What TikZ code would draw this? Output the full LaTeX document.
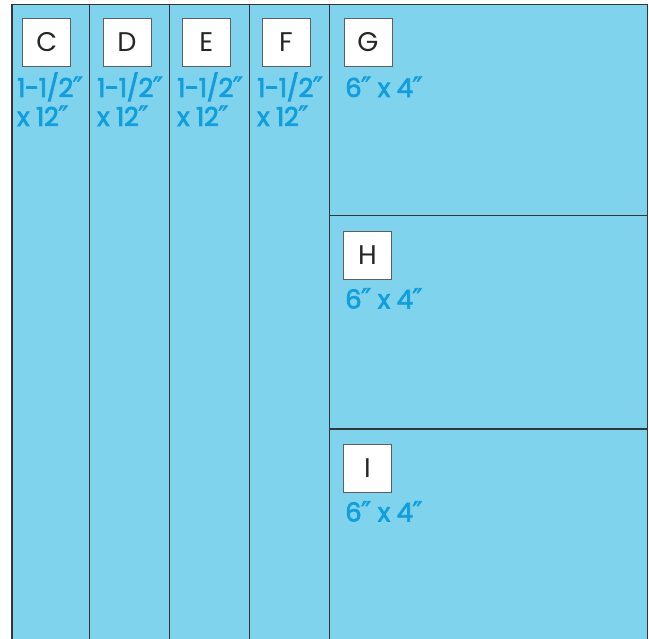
\documentclass[tikz,border=0pt]{standalone}
\usepackage{fontspec}
\newfontfamily\pop{Poppins}
\newfontfamily\popdim{Poppins}[FakeBold=2.5,LetterSpace=-2]
\newfontfamily\dvs{DejaVu Sans}[FakeBold=1.5]
\newcommand{\inch}{{\dvs\kern-0.03em\fontsize{28}{29}\selectfont ″}}
\definecolor{bgblue}{RGB}{127,211,237}
\definecolor{txtblue}{RGB}{17,158,220}
\definecolor{edge}{RGB}{50,55,60}
\begin{document}
\begin{tikzpicture}[x=1pt,y=-1pt,
  letterbox/.style={draw=edge!80,line width=0.9pt,fill=white,minimum width=48pt,minimum height=48pt,inner sep=0pt,font=\pop\fontsize{27}{27}\selectfont,text=black!85},
  dimtext/.style={anchor=base west,inner sep=0pt,align=left,text=txtblue,font=\popdim\fontsize{26}{29}\selectfont},
  cutline/.style={draw=edge,line width=1.1pt}]
\useasboundingbox (0,0) rectangle (649,639);
\fill[bgblue] (12,4.5) rectangle (647.5,639);
\draw[cutline] (12,639) -- (12,4.5) -- (647.5,4.5) -- (647.5,639);
\foreach \x in {89.5,169.5,249.3,329.3} \draw[cutline] (\x,4.5) -- (\x,639);
\draw[cutline] (329.3,215.7) -- (647.5,215.7);
\draw[cutline] (329.3,429) -- (647.5,429);
\node[letterbox] (C) at (46.7,42) {C};
\node[letterbox] (D) at (127,42) {D};
\node[letterbox] (E) at (206.3,42) {E};
\node[letterbox] (F) at (286,42) {F};
\node[letterbox] (G) at (368,42) {G};
\node[letterbox] (H) at (367.5,255.2) {H};
\node[letterbox] (I) at (367.5,468) {I};
\node[dimtext] (tC) at (17,126) {1-1/2\inch\\x 12\inch};
\node[dimtext] (tD) at (97,126) {1-1/2\inch\\x 12\inch};
\node[dimtext] (tE) at (177,126) {1-1/2\inch\\x 12\inch};
\node[dimtext] (tF) at (257,126) {1-1/2\inch\\x 12\inch};
\node[dimtext] (tG) at (345,97) {6\inch{} x 4\inch};
\node[dimtext] (tH) at (345,308.5) {6\inch{} x 4\inch};
\node[dimtext] (tI) at (345,521.5) {6\inch{} x 4\inch};
\end{tikzpicture}
\end{document}
